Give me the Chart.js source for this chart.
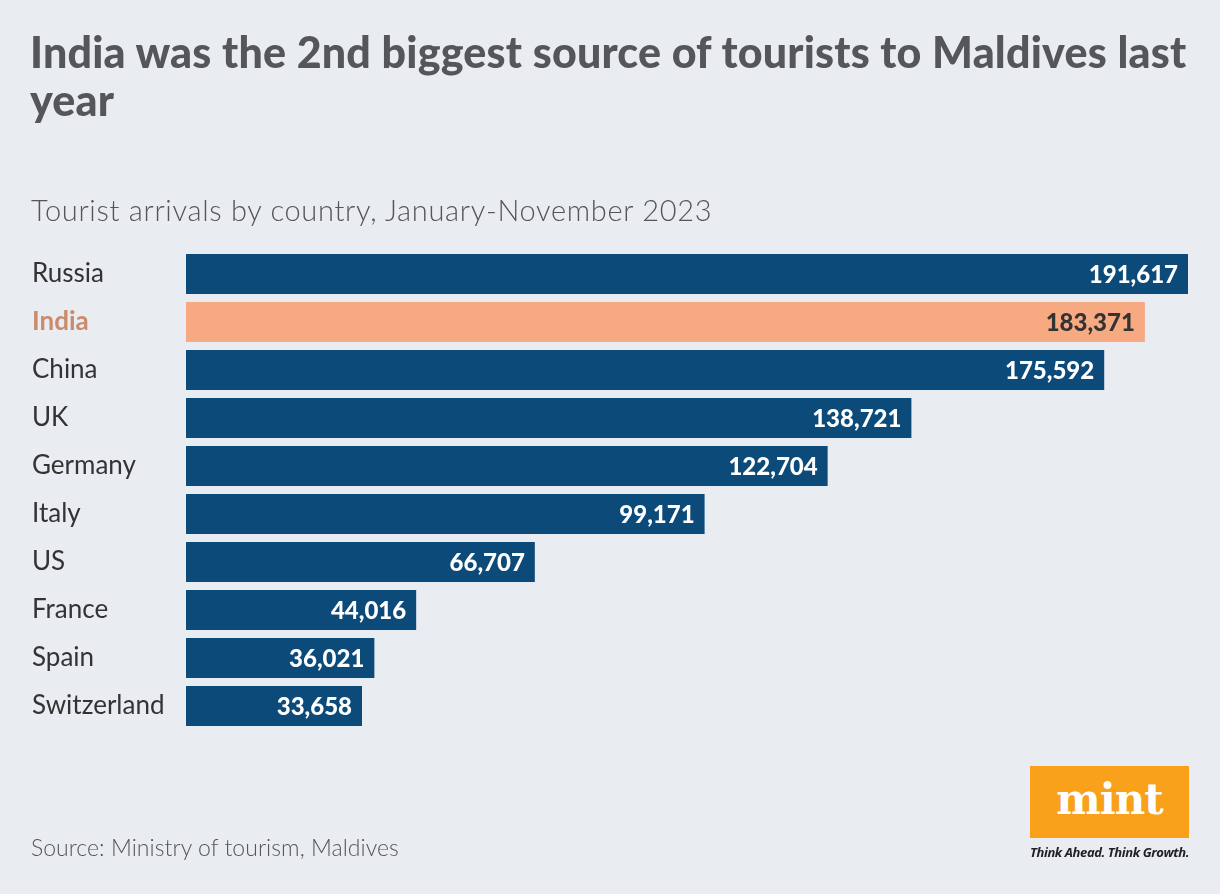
<!DOCTYPE html>
<html><head><meta charset="utf-8">
<script src="https://cdn.jsdelivr.net/npm/chart.js@4"></script>
<style>
html,body{margin:0;padding:0;background:#e9ecf1;}
#wrap{position:relative;width:1220px;height:894px;background:#e9ecf1;font-family:Lato,"Open Sans",sans-serif;}
canvas{position:absolute;left:0;top:0;}
.t{position:absolute;color:#58595b;white-space:nowrap;}
#title{left:30px;top:28px;font-weight:900;font-size:43px;line-height:48px;letter-spacing:0.2px;color:#555659;}
#sub{left:31px;top:192px;font-size:29px;font-weight:300;letter-spacing:0.7px;color:#555;}
#src{left:31px;top:833px;font-size:23px;font-weight:300;letter-spacing:0.05px;color:#555;}
#logo{position:absolute;left:1030px;top:766px;width:159px;height:72px;background:#f9a11b;color:#fff;font-family:"DejaVu Serif",serif;font-weight:bold;font-size:42px;text-align:center;line-height:68px;letter-spacing:-1px;}
#tag{position:absolute;left:1030px;top:843px;font-size:13px;font-style:italic;font-weight:bold;color:#222;font-family:"Open Sans",sans-serif;letter-spacing:-0.4px;}
</style></head><body>
<div id="wrap">
<canvas id="c" width="1220" height="894"></canvas>
<div class="t" id="title">India was the 2nd biggest source of tourists to Maldives last<br>year</div>
<div class="t" id="sub">Tourist arrivals by country, January-November 2023</div>
<div class="t" id="src">Source: Ministry of tourism, Maldives</div>
<div id="logo">mint</div>
<div id="tag">Think Ahead. Think Growth.</div>
</div>
<script>
const countries = ["Russia","India","China","UK","Germany","Italy","US","France","Spain","Switzerland"];
const arrivals = [191617,183371,175592,138721,122704,99171,66707,44016,36021,33658];
const highlight = "India";

const barColors = countries.map(c => c === highlight ? "#f7a982" : "#0c4a7a");
const valuePlugin = {
  id: "vals",
  afterDatasetsDraw(chart){
    const ctx = chart.ctx;
    const meta = chart.getDatasetMeta(0);
    ctx.save();
    ctx.font = "900 24px Lato, sans-serif";
    ctx.textAlign = "right";
    ctx.textBaseline = "middle";
    meta.data.forEach((bar,i)=>{
      ctx.fillStyle = countries[i] === highlight ? "#333333" : "#ffffff";
      ctx.fillText(arrivals[i].toLocaleString("en-US"), bar.x - 10, bar.y + 1);
    });
    ctx.restore();
  }
};
new Chart(document.getElementById("c"), {
  type: "bar",
  data: { labels: countries, datasets: [{ data: arrivals, backgroundColor: barColors, barPercentage: 1, categoryPercentage: 40/48 }] },
  options: {
    indexAxis: "y",
    responsive: false,
    animation: false,
    layout: { padding: { left: 32, right: 32, top: 250, bottom: 164 } },
    plugins: { legend: { display: false }, tooltip: { enabled: false } },
    scales: {
      x: { display: false, min: 0, max: 191617 },
      y: {
        grid: { display: false, drawTicks: false },
        border: { display: false },
        afterFit(s){ s.width = 154; },
        ticks: {
          crossAlign: "far",
          padding: 0,
          color: ctx => countries[ctx.index] === highlight ? "#c98b6c" : "#333333",
          font: ctx => ({ family: "Lato, sans-serif", size: 26, weight: countries[ctx.index] === highlight ? "bold" : "normal" })
        }
      }
    }
  },
  plugins: [valuePlugin]
});
</script>
</body></html>
